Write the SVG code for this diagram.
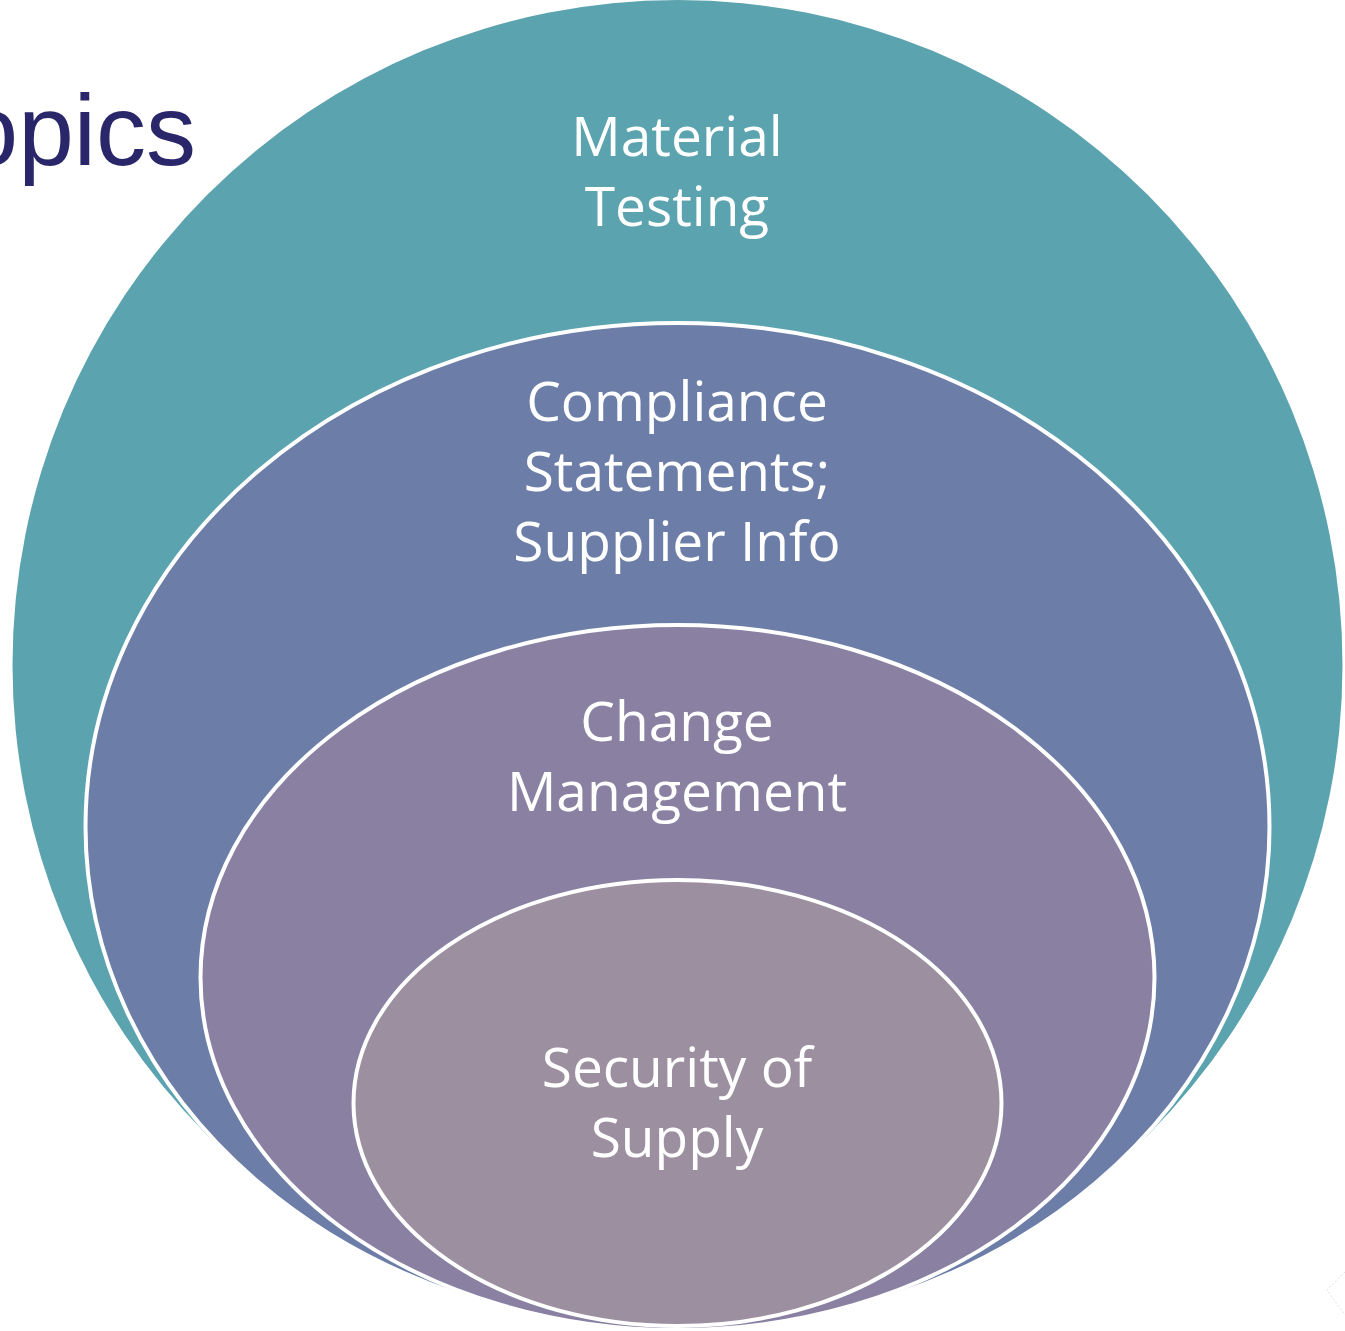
<svg xmlns="http://www.w3.org/2000/svg" width="1345" height="1331" viewBox="0 0 1345 1331">
<style>
.lbl{font-family:"Open Sans","Noto Sans","Liberation Sans",sans-serif;font-size:55px;fill:#ffffff;text-anchor:middle}
.ring{stroke:#ffffff;stroke-width:4}
</style>
<rect width="1345" height="1331" fill="#ffffff"/>
<text x="196" y="165" font-family="'Liberation Sans',Arial,sans-serif" font-size="100" fill="#29266A" text-anchor="end">Topics</text>
<g id="connectors"></g>
<g id="material-testing">
<ellipse cx="677.5" cy="665" rx="665" ry="665" fill="#5BA3AE"/>
<text class="lbl" x="677" y="156">Material</text>
<text class="lbl" x="677" y="226">Testing</text>
</g>
<g id="compliance">
<ellipse class="ring" cx="677.5" cy="826.5" rx="592" ry="503.5" fill="#6C7EA8"/>
<text class="lbl" x="677" y="421">Compliance</text>
<text class="lbl" x="677" y="491">Statements;</text>
<text class="lbl" x="677" y="561">Supplier Info</text>
</g>
<g id="change-management">
<ellipse class="ring" cx="677.5" cy="977.5" rx="477" ry="352.5" fill="#8980A2"/>
<text class="lbl" x="677" y="741">Change</text>
<text class="lbl" x="677" y="811">Management</text>
</g>
<g id="security-of-supply">
<ellipse class="ring" cx="677.5" cy="1103" rx="324" ry="223" fill="#9C8F9F"/>
<text class="lbl" x="677" y="1087">Security of</text>
<text class="lbl" x="677" y="1157">Supply</text>
</g>
<path d="M1345 1272 L1327 1290 L1345 1315" fill="none" stroke="#e2e2e2" stroke-width="1" stroke-dasharray="2 2"/>
</svg>
